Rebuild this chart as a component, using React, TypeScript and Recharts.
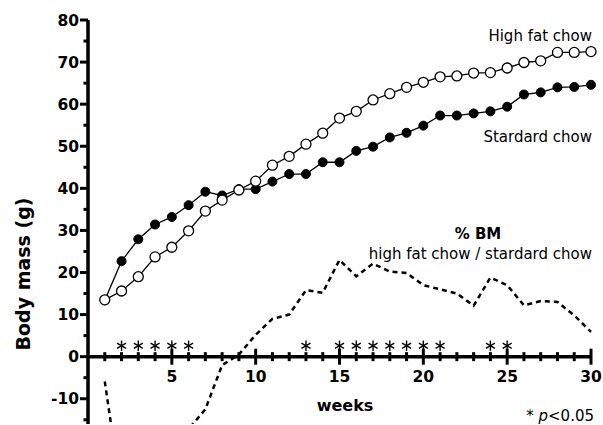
import { ComposedChart, Line, Scatter, XAxis, YAxis, ReferenceLine } from 'recharts'

const weeks = [
  1, 2, 3, 4, 5, 6, 7, 8, 9, 10, 11, 12, 13, 14, 15, 16, 17, 18, 19, 20, 21, 22, 23, 24, 25, 26, 27, 28, 29, 30,
]
const standardChow = [
  13.4, 22.7, 27.9, 31.4, 33.2, 36.0, 39.2, 38.3, 39.8, 39.8, 41.6, 43.4, 43.4, 46.2, 46.2, 48.9, 49.9, 52.1,
  53.2, 54.9, 57.3, 57.3, 57.8, 58.3, 59.4, 62.3, 62.8, 64.0, 64.1, 64.6,
]
const highFatChow = [
  13.5, 15.6, 19.0, 23.7, 26.0, 29.9, 34.6, 37.2, 39.6, 41.7, 45.5, 47.6, 50.5, 53.1, 56.7, 58.3, 61.0, 62.5,
  64.0, 65.2, 66.5, 66.7, 67.4, 67.5, 68.6, 69.9, 70.3, 72.3, 72.3, 72.5,
]
// % BM = high fat / standard
const pctBM = [
  -5.9, -33, -32, -25, -21.5, -17.2, -12.5, -2, 0.5, 5.2, 9.0, 10.0, 15.8, 15.2, 23.0, 19.1, 22.1, 20.2, 19.9,
  17.0, 16.0, 15.0, 12.1, 18.8, 17.0, 12.2, 13.2, 13.0, 9.8, 5.9,
]
const sigWeeks = [2, 3, 4, 5, 6, 13, 15, 16, 17, 18, 19, 20, 21, 24, 25]
const xTicks = weeks
const yTicks = [-15, -10, -5, 0, 5, 10, 15, 20, 25, 30, 35, 40, 45, 50, 55, 60, 65, 70, 75, 80]

const data = weeks.map((w, i) => ({
  week: w,
  standard: standardChow[i],
  highFat: highFatChow[i],
  pct: pctBM[i],
}))
const sigData = sigWeeks.map((w) => ({ week: w, y: 2.6 }))

const W = 603
const H = 425
const TOP = 20
const X_AXIS_H = 1
const Y_MIN = -16
const Y_MAX = 80
// pixel row of y = 0, where the x axis crosses
const Y0 = TOP + ((H - X_AXIS_H - TOP) * Y_MAX) / (Y_MAX - Y_MIN)

const font = '"DejaVu Sans", Verdana, sans-serif'

const XTick = (props: any) => {
  const { x, payload } = props
  const v = payload.value
  const major = v % 5 === 0
  const len = major ? 8 : 4.5
  return (
    <g>
      <line x1={x} x2={x} y1={Y0 - len} y2={Y0 + len} stroke="#000" strokeWidth={3} />
      {major && (
        <text x={x} y={Y0 + 25.5} textAnchor="middle" fontFamily={font} fontWeight="bold" fontSize={15.5} fill="#000">
          {v}
        </text>
      )}
    </g>
  )
}

const YTick = (props: any) => {
  const { x, y, payload } = props
  const v = payload.value
  const major = v % 10 === 0
  return (
    <g>
      <line x1={x - (major ? 8 : 4.5)} x2={x} y1={y} y2={y} stroke="#000" strokeWidth={3} />
      {major && (
        <text x={x - 9} y={y + 5.5} textAnchor="end" fontFamily={font} fontWeight="bold" fontSize={15.5} fill="#000">
          {v}
        </text>
      )}
    </g>
  )
}

const Asterisk = (props: any) => {
  const { cx, cy } = props
  const r = 5.2
  const a = r * Math.cos(Math.PI / 6)
  const b = r * Math.sin(Math.PI / 6)
  return (
    <g stroke="#000" strokeWidth={1.4}>
      <line x1={cx} y1={cy - r} x2={cx} y2={cy + r} />
      <line x1={cx - a} y1={cy - b} x2={cx + a} y2={cy + b} />
      <line x1={cx - a} y1={cy + b} x2={cx + a} y2={cy - b} />
    </g>
  )
}

export default function App() {
  return (
    <div style={{ position: 'relative', width: W, height: H, background: '#fff' }}>
      <style>{'body{margin:0}'}</style>
      <ComposedChart width={W} height={H} data={data} margin={{ top: TOP, right: 12, bottom: 0, left: 0 }}>
        <XAxis
          type="number"
          dataKey="week"
          domain={[0, 30]}
          ticks={xTicks}
          interval={0}
          height={X_AXIS_H}
          axisLine={false}
          tickLine={false}
          tickSize={0}
          tickMargin={0}
          tick={(p: any) => <XTick {...p} />}
        />
        <YAxis
          type="number"
          domain={[Y_MIN, Y_MAX]}
          allowDataOverflow
          ticks={yTicks}
          interval={0}
          width={88}
          tickSize={0}
          tickMargin={0}
          tickLine={false}
          axisLine={{ stroke: '#000', strokeWidth: 3.5 }}
          tick={(p: any) => <YTick {...p} />}
        />
        <ReferenceLine y={0} stroke="#000" strokeWidth={3.5} />
        <Line
          dataKey="pct"
          stroke="#000"
          strokeWidth={2.5}
          strokeDasharray="5 4"
          dot={false}
          activeDot={false}
          isAnimationActive={false}
        />
        <Line
          dataKey="standard"
          stroke="#000"
          strokeWidth={1.3}
          dot={{ r: 4.5, fill: '#000', stroke: '#000', strokeWidth: 1 }}
          activeDot={false}
          isAnimationActive={false}
        />
        <Line
          dataKey="highFat"
          stroke="#000"
          strokeWidth={1.3}
          dot={{ r: 5, fill: '#fff', stroke: '#000', strokeWidth: 1.3 }}
          activeDot={false}
          isAnimationActive={false}
        />
        <Scatter data={sigData} dataKey="y" shape={(p: any) => <Asterisk {...p} />} isAnimationActive={false} />
      </ComposedChart>
      <svg
        width={W}
        height={H}
        style={{ position: 'absolute', left: 0, top: 0, pointerEvents: 'none' }}
        fontFamily={font}
        fill="#000"
      >
        <text transform="translate(30,274) rotate(-90)" textAnchor="middle" fontWeight="bold" fontSize={19}>
          Body mass (g)
        </text>
        <text x={345} y={411} textAnchor="middle" fontWeight="bold" fontSize={16}>
          weeks
        </text>
        <text x={592} y={41} textAnchor="end" fontSize={15}>
          High fat chow
        </text>
        <text x={592} y={142} textAnchor="end" fontSize={15}>
          Stardard chow
        </text>
        <text x={478} y={239} textAnchor="middle" fontWeight="bold" fontSize={15}>
          % BM
        </text>
        <text x={592} y={259} textAnchor="end" fontSize={15}>
          high fat chow / stardard chow
        </text>
        <text x={594} y={421} textAnchor="end" fontSize={15}>
          {'* '}
          <tspan fontStyle="italic">p</tspan>
          {'<0.05'}
        </text>
      </svg>
    </div>
  )
}
